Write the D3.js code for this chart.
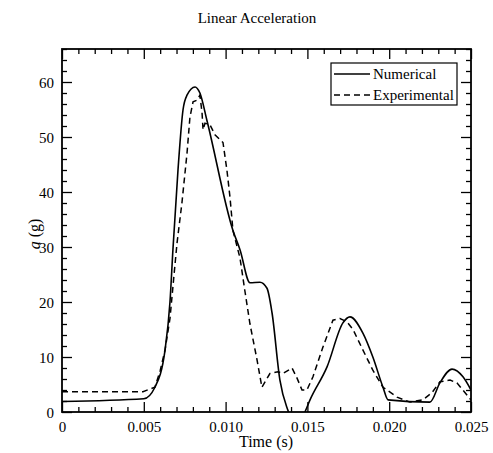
<!DOCTYPE html>
<html>
<head>
<meta charset="utf-8">
<script src="https://cdn.jsdelivr.net/npm/d3@7"></script>
<style>
  body { margin: 0; background: #fff; }
  text { font-family: "Liberation Serif", "Times New Roman", serif; fill: #000; }
</style>
</head>
<body>
<div id="plot"></div>
<script>
// data
const numTime = [0, 0.005, 0.00568, 0.0063, 0.0066, 0.00678, 0.00709, 0.0074, 0.00764, 0.00813,
  0.00843, 0.00886, 0.01045, 0.01088, 0.01149, 0.0121, 0.01253, 0.01284, 0.01332, 0.01381,
  0.01436, 0.01485, 0.01516, 0.0162, 0.01717, 0.0176, 0.0184, 0.019, 0.01962, 0.01993,
  0.02249, 0.0231, 0.02384, 0.02451, 0.025];
const numAccel = [1.9, 2.4, 4.5, 11.3, 20, 29.5, 44, 55, 57.6, 59.1,
  58, 53, 33, 29.5, 23.5, 23.6, 22.5, 18, 5.8, 0.3,
  -3, 0, 2.2, 8.2, 16.2, 17.3, 14.3, 10, 4.5, 2.2,
  1.8, 5.3, 7.8, 6.4, 4];

const expTime = [0, 0.00495, 0.00568, 0.006, 0.0063, 0.0066, 0.00685, 0.00703, 0.00733, 0.00764,
  0.00782, 0.00801, 0.00825, 0.00843, 0.00856, 0.00862, 0.00874, 0.00905, 0.00935, 0.00984,
  0.01008, 0.01027, 0.01045, 0.01088, 0.01118, 0.01149, 0.01192, 0.01222, 0.01271, 0.0132,
  0.01351, 0.01406, 0.01436, 0.01467, 0.01497, 0.01534, 0.01595, 0.01656, 0.01699, 0.01742,
  0.01779, 0.01834, 0.019, 0.01962, 0.02048, 0.02127, 0.02206, 0.02261, 0.0231, 0.02372,
  0.02414, 0.02475, 0.025];
const expAccel = [3.7, 3.7, 4.5, 7.5, 11.3, 17, 25, 30.7, 38, 47,
  53.6, 56.4, 56.7, 57.6, 54.4, 51.3, 52.5, 52.2, 50.4, 49,
  44, 39, 33, 28, 22, 16, 9.5, 4.5, 7, 7.3,
  7, 8, 6.2, 4, 4, 6.4, 11.8, 16.7, 17, 16.4,
  15, 11.6, 7.6, 4.5, 2.7, 1.8, 2.2, 3.5, 5.5, 5.8,
  5.3, 3.1, 2.2];

const xTicks = [0, 0.005, 0.010, 0.015, 0.020, 0.025];
const yTicks = [0, 10, 20, 30, 40, 50, 60];
const seriesNames = ["Numerical", "Experimental"];

const w = 493;
const h = 453;
const margin = {top: 49, right: 22, bottom: 41, left: 62};

const svg = d3.select("div#plot")
  .append("svg")
    .attr("width", w)
    .attr("height", h);

const xScale = d3.scaleLinear()
  .domain([0, 0.025])
  .range([margin.left, w - margin.right]);

const yScale = d3.scaleLinear()
  .domain([0, 66])
  .range([h - margin.bottom, margin.top]);

// clip for the curves
svg.append("clipPath")
  .attr("id", "clip")
  .append("rect")
    .attr("x", margin.left)
    .attr("y", margin.top)
    .attr("width", xScale.range()[1] - margin.left)
    .attr("height", yScale.range()[0] - margin.top);

const numData = numTime.map((t, i) => ({t: t, a: numAccel[i]}));
const expData = expTime.map((t, i) => ({t: t, a: expAccel[i]}));

const numLine = d3.line()
  .x(d => xScale(d.t))
  .y(d => yScale(d.a))
  .curve(d3.curveMonotoneX);

const expLine = d3.line()
  .x(d => xScale(d.t))
  .y(d => yScale(d.a));

svg.append("path")
  .datum(numData)
  .attr("clip-path", "url(#clip)")
  .attr("d", numLine)
  .attr("fill", "none")
  .attr("stroke", "#000")
  .attr("stroke-width", 1.6);

svg.append("path")
  .datum(expData)
  .attr("clip-path", "url(#clip)")
  .attr("d", expLine)
  .attr("fill", "none")
  .attr("stroke", "#000")
  .attr("stroke-width", 1.5)
  .attr("stroke-dasharray", "6,4");

// axes: ticks pointing inward on all four sides
const xMinor = d3.range(0, 26).map(i => i * 0.001).filter((d, i) => i % 5 !== 0);
const yMinor = d3.range(0, 34).map(i => i * 2).filter(d => d % 10 !== 0);

const axisBottomG = svg.append("g")
  .attr("transform", `translate(0, ${yScale(0)})`);
axisBottomG.call(d3.axisBottom(xScale).tickValues(xTicks).tickSizeInner(-10).tickSizeOuter(0)
  .tickFormat(d => d === 0 ? "0" : d3.format(".3f")(d)));
axisBottomG.append("g").call(d3.axisBottom(xScale).tickValues(xMinor).tickSizeInner(-5).tickSizeOuter(0).tickFormat(""));

const axisTopG = svg.append("g")
  .attr("transform", `translate(0, ${margin.top})`);
axisTopG.call(d3.axisTop(xScale).tickValues(xTicks).tickSizeInner(-10).tickSizeOuter(0).tickFormat(""));
axisTopG.append("g").call(d3.axisTop(xScale).tickValues(xMinor).tickSizeInner(-5).tickSizeOuter(0).tickFormat(""));

const axisLeftG = svg.append("g")
  .attr("transform", `translate(${margin.left}, 0)`);
axisLeftG.call(d3.axisLeft(yScale).tickValues(yTicks).tickSizeInner(-10).tickSizeOuter(0));
axisLeftG.append("g").call(d3.axisLeft(yScale).tickValues(yMinor).tickSizeInner(-5).tickSizeOuter(0).tickFormat(""));

const axisRightG = svg.append("g")
  .attr("transform", `translate(${xScale.range()[1]}, 0)`);
axisRightG.call(d3.axisRight(yScale).tickValues(yTicks).tickSizeInner(-10).tickSizeOuter(0).tickFormat(""));
axisRightG.append("g").call(d3.axisRight(yScale).tickValues(yMinor).tickSizeInner(-5).tickSizeOuter(0).tickFormat(""));

svg.selectAll(".domain").remove();
svg.selectAll(".tick line").attr("stroke", "#000").attr("stroke-width", 1.3);

axisBottomG.selectAll(".tick text")
  .attr("y", 0).attr("dy", 0)
  .attr("transform", "translate(0, 20)")
  .style("font-family", "'Liberation Serif', serif")
  .style("font-size", "15px");

axisLeftG.selectAll(".tick text")
  .attr("x", -8).attr("dy", "0.35em")
  .style("font-family", "'Liberation Serif', serif")
  .style("font-size", "15px");

// frame
svg.append("rect")
  .attr("x", margin.left)
  .attr("y", margin.top)
  .attr("width", xScale.range()[1] - margin.left)
  .attr("height", yScale.range()[0] - margin.top)
  .attr("fill", "none")
  .attr("stroke", "#000")
  .attr("stroke-width", 1.8);

// title and axis labels
svg.append("text")
  .attr("x", 257)
  .attr("y", 23)
  .attr("text-anchor", "middle")
  .style("font-size", "15px")
  .text("Linear Acceleration");

svg.append("text")
  .attr("x", 266)
  .attr("y", 447)
  .attr("text-anchor", "middle")
  .style("font-size", "16px")
  .text("Time (s)");

const ylab = svg.append("text")
  .attr("transform", "translate(40, 234) rotate(-90)")
  .attr("text-anchor", "middle")
  .style("font-size", "16px");
ylab.append("tspan").style("font-style", "italic").text("a");
ylab.append("tspan").text(" (g)");

// legend
const legend = svg.append("g");
legend.append("rect")
  .attr("x", 331)
  .attr("y", 63)
  .attr("width", 126)
  .attr("height", 42)
  .attr("fill", "#fff")
  .attr("stroke", "#000")
  .attr("stroke-width", 1.2);

legend.selectAll("line.key")
  .data(seriesNames)
  .enter()
  .append("line")
  .attr("class", "key")
  .attr("x1", 334)
  .attr("x2", 370)
  .attr("y1", (d, i) => 74 + i * 21)
  .attr("y2", (d, i) => 74 + i * 21)
  .attr("stroke", "#000")
  .attr("stroke-width", 1.5)
  .attr("stroke-dasharray", (d, i) => i === 1 ? "6,4" : null);

legend.selectAll("text.key")
  .data(seriesNames)
  .enter()
  .append("text")
  .attr("class", "key")
  .attr("x", 373)
  .attr("y", (d, i) => 79 + i * 21)
  .style("font-size", "15px")
  .text(d => d);
</script>
</body>
</html>
